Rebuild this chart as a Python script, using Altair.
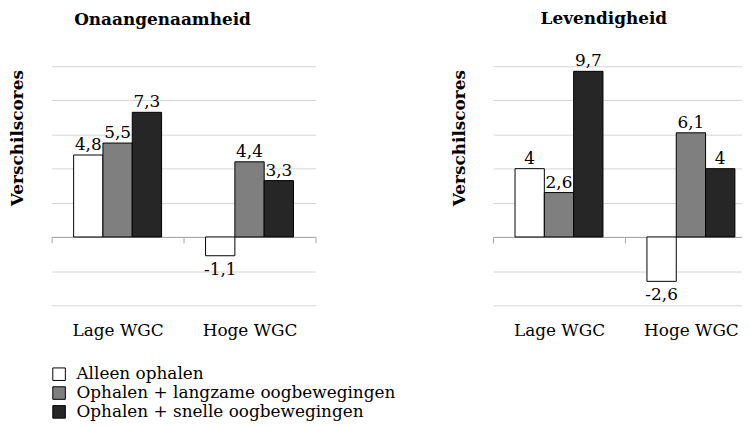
import altair as alt
import pandas as pd

groups = ["Lage WGC", "Hoge WGC"]
series = ["Alleen ophalen", "Ophalen + langzame oogbewegingen", "Ophalen + snelle oogbewegingen"]
onaangenaamheid = [[4.8, 5.5, 7.3], [-1.1, 4.4, 3.3]]
levendigheid = [[4.0, 2.6, 9.7], [-2.6, 6.1, 4.0]]
panel_titles = ["Onaangenaamheid", "Levendigheid"]
y_ticks = [-4, -2, 0, 2, 4, 6, 8, 10]
y_domain = [-4, 10]
colors = ["#ffffff", "#7f7f7f", "#262626"]

FONT = "DejaVu Serif"
FS = 17
W, H = 266, 241


def make_df(vals):
    rows = []
    for gi, g in enumerate(groups):
        for si, s in enumerate(series):
            v = vals[gi][si]
            rows.append({"groep": g, "reeks": s, "waarde": v,
                         "label": f"{v:g}".replace(".", ",")})
    return pd.DataFrame(rows)


def panel(vals, title, title_offset):
    df = make_df(vals)
    zero_off = -H * (0 - y_domain[0]) / (y_domain[1] - y_domain[0])
    base = alt.Chart(df).encode(
        x=alt.X("groep:N", sort=groups,
                scale=alt.Scale(paddingInner=0, paddingOuter=0),
                axis=alt.Axis(title=None, labelAngle=0, offset=zero_off,
                              tickBand="extent", tickSize=6, tickColor="#a6a6a6",
                              domainColor="#a6a6a6", labelPadding=80,
                              labelFont=FONT, labelFontSize=FS, labelColor="black",
                              grid=False)),
        xOffset=alt.XOffset("reeks:N", sort=series,
                            scale=alt.Scale(paddingInner=0, paddingOuter=0.75)),
        y=alt.Y("waarde:Q", scale=alt.Scale(domain=y_domain, nice=False),
                axis=alt.Axis(values=y_ticks, labels=False, ticks=False, domain=False,
                              grid=True, gridColor="#d4d4d4",
                              title="Verschilscores", titleFont=FONT, titleFontSize=FS,
                              titleFontWeight="bold", titleColor="black",
                              titlePadding=25, titleY=72)),
    )
    bars = base.mark_bar(stroke="black", strokeWidth=1).encode(
        color=alt.Color("reeks:N", sort=series,
                        scale=alt.Scale(domain=series, range=colors),
                        legend=alt.Legend(title=None, orient="none", legendX=-1, legendY=302,
                                          symbolType="square", symbolSize=160,
                                          symbolStrokeColor="black", symbolStrokeWidth=1,
                                          labelFont=FONT, labelFontSize=FS, labelColor="black",
                                          labelOffset=9, rowPadding=1, padding=0,
                                          labelLimit=400))
    )
    pos_text = base.transform_filter("datum.waarde >= 0").mark_text(
        baseline="alphabetic", dy=-5, font=FONT, fontSize=FS, color="black"
    ).encode(text="label:N")
    neg_text = base.transform_filter("datum.waarde < 0").mark_text(
        baseline="top", dy=6, font=FONT, fontSize=FS, color="black"
    ).encode(text="label:N")
    return alt.layer(bars, pos_text, neg_text).properties(
        width=W, height=H,
        title=alt.TitleParams(title, font=FONT, fontSize=FS, fontWeight="bold",
                              color="black", anchor="middle", frame="bounds",
                              offset=title_offset),
    )


left = panel(onaangenaamheid, panel_titles[0], 38)
right = panel(levendigheid, panel_titles[1], 25)

chart = alt.hconcat(left, right, spacing=134).properties(
    padding={"left": 0, "top": 0, "right": -16, "bottom": 0}
).configure_view(strokeWidth=0)

chart.save("out.html", embed_options={"renderer": "svg", "actions": False})
